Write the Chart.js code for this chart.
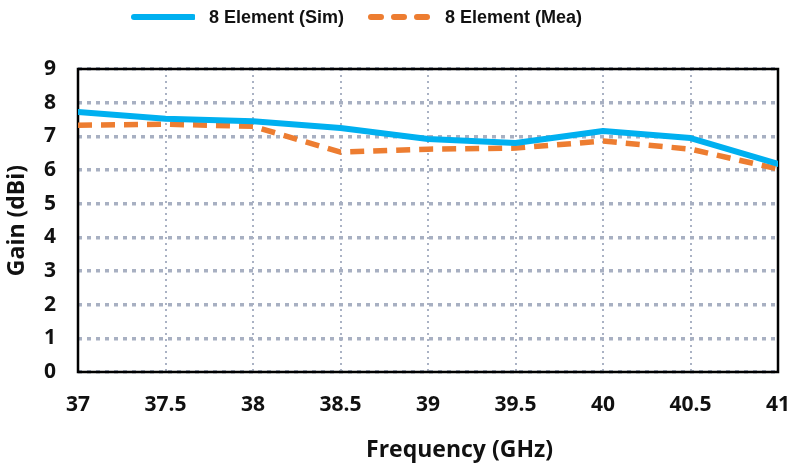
<!DOCTYPE html>
<html><head><meta charset="utf-8">
<script src="https://cdn.jsdelivr.net/npm/chart.js@4/dist/chart.umd.min.js"></script>
<style>
html,body{margin:0;padding:0;background:#fff;}
#wrap{position:relative;width:793px;height:469px;}
#legend{position:absolute;top:2px;left:0;width:793px;height:30px;font-family:"Liberation Sans Narrow","Liberation Sans",Arial,sans-serif;font-weight:bold;font-size:18px;color:#111;}
.item{position:absolute;top:0;display:flex;align-items:center;height:30px;}
.item svg{margin-right:14px;}
</style></head>
<body>
<div id="wrap">
<canvas id="c" width="793" height="469"></canvas>
<div id="legend">
 <div class="item" style="left:131px"><svg width="64" height="10"><line x1="3" y1="5" x2="62" y2="5" stroke="#00b0f0" stroke-width="6" stroke-linecap="round"/></svg><span>8 Element (Sim)</span></div>
 <div class="item" style="left:367px"><svg width="64" height="10"><line x1="4" y1="5" x2="62" y2="5" stroke="#ed7d31" stroke-width="6" stroke-linecap="round" stroke-dasharray="10 13"/></svg><span>8 Element (Mea)</span></div>
</div>
</div>
<script>
const frequencies = [37, 37.5, 38, 38.5, 39, 39.5, 40, 40.5, 41];
const simGain = [7.72, 7.52, 7.45, 7.25, 6.92, 6.8, 7.16, 6.95, 6.18];
const meaGain = [7.33, 7.36, 7.3, 6.53, 6.62, 6.65, 6.86, 6.62, 6.03];
const yTicks = [0,1,2,3,4,5,6,7,8,9];
const xTitle = 'Frequency (GHz)';
const yTitle = 'Gain (dBi)';

const toPts = arr => frequencies.map((f,i)=>({x:f,y:arr[i]}));
const FONT = '"Open Sans", sans-serif';

const frame = {
  id:'frame',
  beforeDatasetsDraw(chart){
    const {ctx, chartArea:a} = chart;
    ctx.save();
    ctx.strokeStyle = '#000';
    ctx.lineWidth = 2.5;
    ctx.strokeRect(a.left, a.top, a.right-a.left, a.bottom-a.top);
    ctx.restore();
  },
  afterDraw(chart){
    const ctx = chart.ctx, a = chart.chartArea;
    ctx.save();
    ctx.font = 'bold 23px ' + FONT;
    ctx.fillStyle = '#111';
    ctx.textAlign = 'center';
    ctx.textBaseline = 'middle';
    ctx.fillText(xTitle, a.left + (a.right - a.left) * 0.545, chart.height - 19);
    ctx.restore();
  }
};

new Chart(document.getElementById('c'), {
  type:'line',
  data:{datasets:[
    {label:'8 Element (Sim)', data:toPts(simGain), borderColor:'#00b0f0', borderWidth:6, pointRadius:0, tension:0, borderCapStyle:'round', borderJoinStyle:'round'},
    {label:'8 Element (Mea)', data:toPts(meaGain), borderColor:'#ed7d31', borderWidth:5.5, borderDash:[14,9], pointRadius:0, tension:0, borderJoinStyle:'round'}
  ]},
  options:{
    responsive:false, animation:false,
    layout:{padding:{top:69,right:15,left:0,bottom:0}},
    plugins:{legend:{display:false}, tooltip:{enabled:false}},
    scales:{
      x:{type:'linear', min:37, max:41,
        afterFit:s=>{s.height = 97; s.paddingLeft = 0; s.paddingRight = 0;},
        ticks:{stepSize:0.5, padding:20, color:'#111', font:{family:FONT, weight:'bold', size:21}, maxRotation:0, callback:v=>String(v)},
        grid:{color:'#aab2c4', lineWidth:2, tickLength:0, borderDash:[2,4]},
        border:{display:false, dash:[2,4]},
        title:{display:false}
      },
      y:{min:0, max:9,
        afterFit:s=>{s.width = 78; s.paddingTop = 0; s.paddingBottom = 0;},
        afterBuildTicks:s=>{s.ticks = yTicks.map(v=>({value:v}));},
        ticks:{padding:22, color:'#111', font:{family:FONT, weight:'bold', size:21}},
        grid:{color:'#a8b0c2', lineWidth:3.5, tickLength:0, borderDash:[4,5]},
        border:{display:false, dash:[4,5]},
        title:{display:true, text:yTitle, color:'#111', font:{family:FONT, weight:'bold', size:23}, padding:{bottom:0}}
      }
    }
  },
  plugins:[frame]
});
</script>
</body></html>
